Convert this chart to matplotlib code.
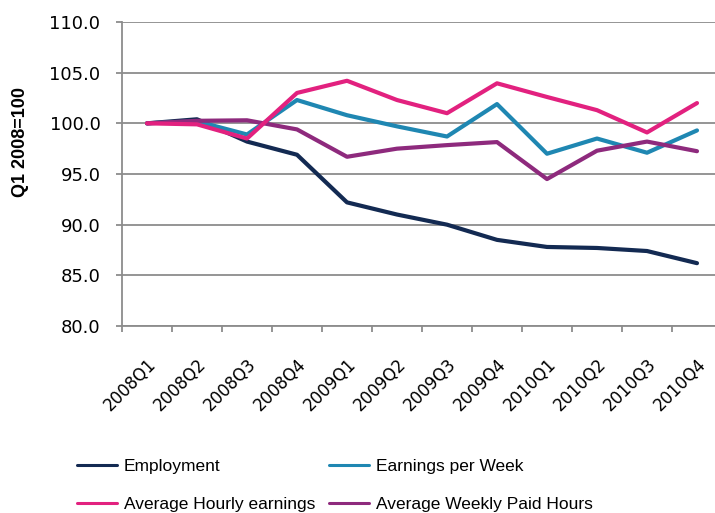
import matplotlib
matplotlib.use("Agg")
import matplotlib.pyplot as plt
import numpy as np

# Data
quarters = ["2008Q1", "2008Q2", "2008Q3", "2008Q4",
            "2009Q1", "2009Q2", "2009Q3", "2009Q4",
            "2010Q1", "2010Q2", "2010Q3", "2010Q4"]
employment = [100.0, 100.4, 98.2, 96.9, 92.2, 91.0, 90.0, 88.5, 87.8, 87.7, 87.4, 86.2]
earnings_week = [100.0, 100.2, 98.9, 102.3, 100.8, 99.7, 98.7, 101.9, 97.0, 98.5, 97.1, 99.3]
hourly_earnings = [100.0, 99.9, 98.5, 103.0, 104.2, 102.3, 101.0, 103.95, 102.6, 101.3, 99.1, 102.0]
weekly_hours = [100.0, 100.25, 100.3, 99.4, 96.7, 97.5, 97.85, 98.15, 94.5, 97.3, 98.2, 97.25]

C_EMP = "#132a52"
C_EARN = "#1f87b2"
C_HOUR = "#e2217f"
C_HRS = "#8e2a7d"
GRID = "#8c8c8c"

W, H = 715, 513
fig = plt.figure(figsize=(W / 100, H / 100), dpi=100)
ax = fig.add_axes([122 / W, 1 - 326 / H, 600 / W, 304 / H])

x = np.arange(len(quarters))
l_emp, = ax.plot(x, employment, color=C_EMP, lw=3, solid_capstyle="round", zorder=3)
l_earn, = ax.plot(x, earnings_week, color=C_EARN, lw=3, solid_capstyle="round", zorder=3)
l_hour, = ax.plot(x, hourly_earnings, color=C_HOUR, lw=3, solid_capstyle="round", zorder=4)
l_hrs, = ax.plot(x, weekly_hours, color=C_HRS, lw=3, solid_capstyle="round", zorder=3)

ax.set_xlim(-0.5, len(quarters) - 0.5)
ax.set_ylim(80, 110)
ax.set_yticks(np.arange(80, 110.1, 5))
ax.set_yticklabels([f"{v:.1f}" for v in np.arange(80, 110.1, 5)], fontsize=13)
ax.yaxis.grid(True, color=GRID, lw=1.3)
ax.set_axisbelow(True)

# category labels at centres, tick marks at boundaries
ax.set_xticks(x)
ax.set_xticklabels(quarters, rotation=45, ha="right", rotation_mode="anchor", fontsize=12)
ax.tick_params(axis="x", which="major", length=0, pad=21)
ax.set_xticks(np.arange(-0.5, len(quarters), 1), minor=True)
ax.tick_params(axis="x", which="minor", length=4.5, width=1.3, color=GRID)
ax.tick_params(axis="y", length=4.5, width=1.3, color=GRID, pad=11)

for s in ["top", "right"]:
    ax.spines[s].set_visible(False)
for s in ["left", "bottom"]:
    ax.spines[s].set_color(GRID)
    ax.spines[s].set_linewidth(1.3)

fig.text(21 / W, 1 - 142 / H, "Q1 2008=100", rotation=90, ha="center", va="center",
         fontsize=13, fontweight="bold", family=["Liberation Sans", "DejaVu Sans"])

leg = fig.legend([l_emp, l_hour, l_earn, l_hrs],
                 ["Employment", "Average Hourly earnings", "Earnings per Week", "Average Weekly Paid Hours"],
                 ncol=2, loc="upper left", bbox_to_anchor=(77 / W, 1 - 459 / H),
                 frameon=False, borderpad=0, borderaxespad=0,
                 handlelength=2.3, handletextpad=0.4, columnspacing=0.8, labelspacing=1.3,
                 prop={"family": ["Liberation Sans", "DejaVu Sans"], "size": 12.5})
for h in leg.get_lines():
    h.set_linewidth(2.2)

fig.savefig("out.png", dpi=100)
